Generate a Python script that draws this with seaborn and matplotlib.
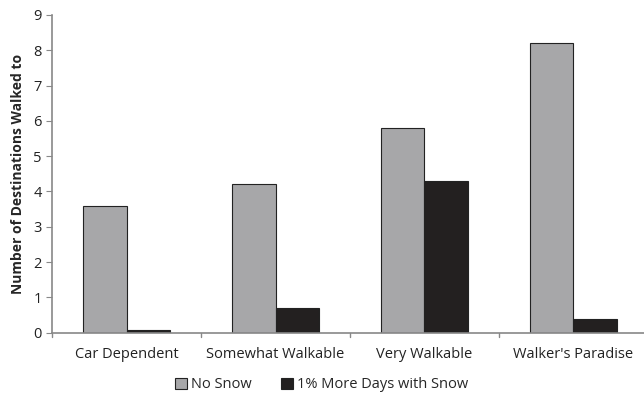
import numpy as np
import pandas as pd
import matplotlib
matplotlib.use('Agg')
import matplotlib.pyplot as plt
import seaborn as sns

categories = ['Car Dependent', 'Somewhat Walkable', 'Very Walkable', "Walker's Paradise"]
no_snow = [3.6, 4.2, 5.8, 8.2]
more_snow = [0.08, 0.7, 4.3, 0.4]
series = ['No Snow', '1% More Days with Snow']

df = pd.DataFrame({
    'cat': categories * 2,
    'val': no_snow + more_snow,
    'series': [series[0]] * 4 + [series[1]] * 4,
})

sns.set_style('white')
plt.rcParams['font.family'] = ['Open Sans', 'DejaVu Sans']

fig = plt.figure(figsize=(6.44, 4.01), dpi=100)
ax = fig.add_axes([0.081, 0.170, 0.925, 0.793])

sns.barplot(data=df, x='cat', y='val', hue='series', order=categories,
            hue_order=series, palette=['#a7a7a9', '#231f20'], width=0.58,
            edgecolor='#222222', linewidth=0.8, ax=ax)

ax.set_ylim(0, 9)
ax.set_yticks(range(10))
ax.set_xlim(-0.5, 3.5)
ax.set_xlabel('')
ax.set_ylabel('Number of Destinations Walked to', fontsize=10, fontweight='bold', labelpad=6)
ax.tick_params(axis='y', labelsize=10.5, length=4, direction='out', left=True,
               color='#888888', labelcolor='#222222')
ax.tick_params(axis='x', labelsize=10.5, length=0, pad=10, labelcolor='#222222')
for s in ['top', 'right']:
    ax.spines[s].set_visible(False)
for s in ['left', 'bottom']:
    ax.spines[s].set_color('#888888')
    ax.spines[s].set_linewidth(1.2)
# category boundary ticks on x axis
for xb in [-0.5, 0.5, 1.5, 2.5, 3.5]:
    ax.plot([xb, xb], [0, -0.12], color='#888888', lw=1, clip_on=False)

ax.legend(loc='center', bbox_to_anchor=(0.5, 0.04), bbox_transform=fig.transFigure,
          ncol=2, frameon=False, fontsize=10.5, handlelength=0.8, handleheight=0.8,
          handletextpad=0.3, columnspacing=2.0)

fig.savefig('out.png', dpi=100)
